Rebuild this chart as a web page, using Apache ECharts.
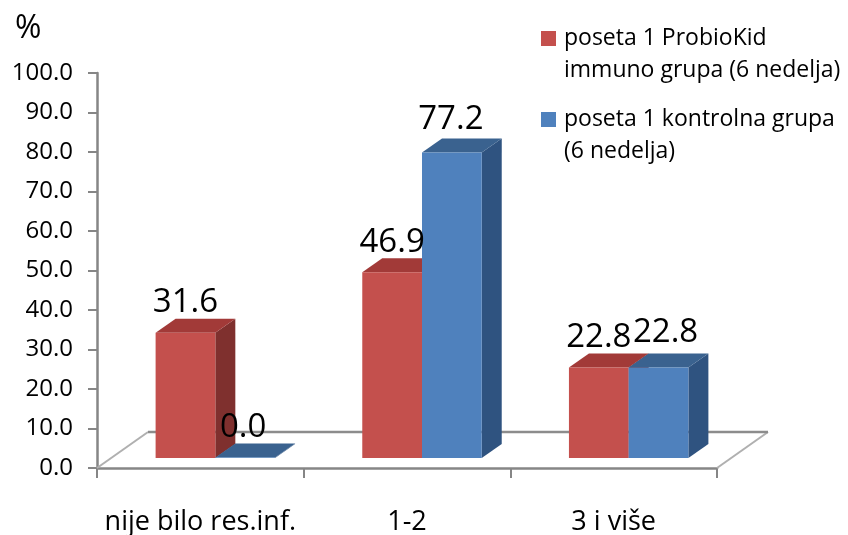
<!DOCTYPE html>
<html>
<head>
<meta charset="utf-8">
<style>html,body{margin:0;padding:0;background:#fff}#c{width:848px;height:535px}</style>
<script src="https://cdn.jsdelivr.net/npm/echarts@6/dist/echarts.min.js"></script>
</head>
<body>
<div id="c"></div>
<script>
const categories = ['nije bilo res.inf.', '1-2', '3 i više'];
const probioValues = [31.6, 46.9, 22.8];
const kontrolnaValues = [0.0, 77.2, 22.8];
const probioName = 'poseta 1 ProbioKid\nimmuno grupa (6 nedelja)';
const kontrolnaName = 'poseta 1 kontrolna grupa\n(6 nedelja)';

const FONT = '"Open Sans", "Noto Sans", sans-serif';
const RED = {front: '#C4504D', top: '#A23A38', side: '#7F302E'};
const BLUE = {front: '#4F81BD', top: '#3A628F', side: '#2F5380'};
const DX = 20, DY = -14;

function toData(values) { return values.map((v, i) => [i, v]); }

function bar3d(side, c) {
  return function (params, api) {
    const p0 = api.coord([api.value(0), 0]);
    const p1 = api.coord([api.value(0), api.value(1)]);
    const band = api.size([1, 0])[0];
    const w = band * 0.289;
    const cx = p0[0] + 15;
    const x0 = side < 0 ? cx - w : cx;
    const x1 = x0 + w;
    const yb = p0[1] - 10;
    const yt = p1[1] - 10.5;
    return {
      type: 'group',
      children: [
        {type: 'polygon', shape: {points: [[x1, yt], [x1 + DX, yt + DY], [x1 + DX, yb + DY], [x1, yb]]}, style: {fill: c.side}},
        {type: 'polygon', shape: {points: [[x0, yt], [x0 + DX, yt + DY], [x1 + DX, yt + DY], [x1, yt]]}, style: {fill: c.top}},
        {type: 'rect', shape: {x: x0, y: yt, width: w, height: yb - yt}, style: {fill: c.front}}
      ]
    };
  };
}

function labelSeries(values, side, nudge) {
  return {
    type: 'custom', silent: true, z: 10, clip: false,
    data: toData(values),
    renderItem: function (params, api) {
      const i = params.dataIndex;
      const p = api.coord([api.value(0), api.value(1)]);
      const w = api.size([1, 0])[0] * 0.289;
      return {
        type: 'text',
        style: {
          text: api.value(1).toFixed(1),
          x: p[0] + 15 + side * w / 2 + nudge[i][0],
          y: p[1] - 10.5 - 30 + nudge[i][1],
          align: 'center', verticalAlign: 'middle',
          fill: '#000', font: '33px ' + FONT
        }
      };
    }
  };
}

const option = {
  animation: false,
  backgroundColor: '#fff',
  textStyle: {fontFamily: FONT},
  grid: {left: 97, right: 131, top: 73, bottom: 67, outerBoundsMode: 'none'},
  legend: {
    left: 536, top: 17, orient: 'vertical',
    itemWidth: 18, itemHeight: 65, itemGap: 16,
    icon: 'path://M0,0h18 M0,9h15v15h-15z M0,65h18',
    data: [probioName, kontrolnaName],
    textStyle: {fontSize: 23, lineHeight: 32.5, color: '#000', fontFamily: FONT},
    selectedMode: false
  },
  graphic: [{type: 'text', left: 15, top: 13, style: {text: '%', font: '32px ' + FONT, fill: '#000'}}],
  xAxis: {
    type: 'category', data: categories,
    axisLine: {lineStyle: {color: '#868686', width: 2.5}},
    axisTick: {show: true, interval: 0, alignWithLabel: false, length: 10, lineStyle: {color: '#868686', width: 2}},
    axisLabel: {show: true, interval: 0, fontSize: 27, color: '#000', margin: 41, fontFamily: FONT}
  },
  yAxis: {
    type: 'value', min: 0, max: 100, interval: 10,
    splitLine: {show: false},
    axisLine: {show: true, lineStyle: {color: '#868686', width: 2.5}},
    axisTick: {show: true, length: 9, lineStyle: {color: '#868686', width: 2}},
    axisLabel: {fontSize: 24, color: '#000', margin: 24, fontFamily: FONT, formatter: v => v.toFixed(1)}
  },
  series: [
    {
      type: 'custom', silent: true, z: 1, clip: false, data: [[0, 0]],
      renderItem: function (params) {
        const cs = params.coordSys;
        const x = cs.x, y = cs.y + cs.height, w = cs.width;
        return {
          type: 'group',
          children: [
            {type: 'polyline', shape: {points: [[x, y], [x + 51, y - 36]]}, style: {fill: null, stroke: '#B0B0B0', lineWidth: 2}},
            {type: 'polyline', shape: {points: [[x + w, y], [x + w + 51, y - 36]]}, style: {fill: null, stroke: '#B0B0B0', lineWidth: 2}},
            {type: 'line', shape: {x1: x + 51, y1: y - 36, x2: x + w + 51, y2: y - 36}, style: {stroke: '#8C8C8C', lineWidth: 2.5}}
          ]
        };
      }
    },
    {name: probioName, type: 'custom', z: 3, clip: false, itemStyle: {color: RED.front}, data: toData(probioValues), renderItem: bar3d(-1, RED)},
    {name: kontrolnaName, type: 'custom', z: 4, clip: false, itemStyle: {color: BLUE.front}, data: toData(kontrolnaValues), renderItem: bar3d(1, BLUE)},
    labelSeries(probioValues, -1, [[0, 0], [0, 0], [0, 0]]),
    labelSeries(kontrolnaValues, 1, [[-2, 0], [-1, -3], [7, -5]])
  ]
};
const chart = echarts.init(document.getElementById('c'), null, {renderer: 'canvas'});
chart.setOption(option);
</script>
</body>
</html>
